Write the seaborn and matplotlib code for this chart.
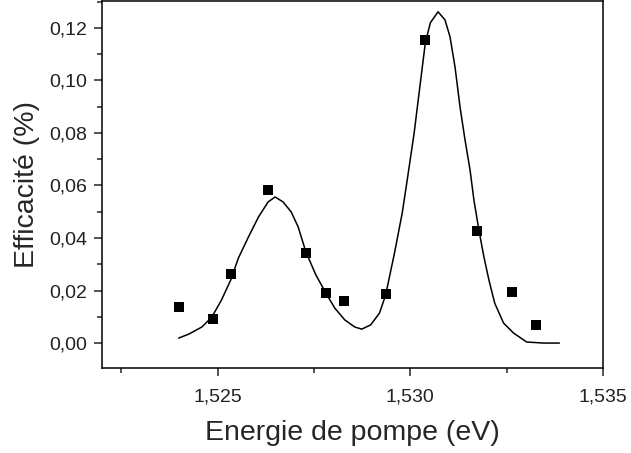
import numpy as np
import pandas as pd
import matplotlib
matplotlib.use("Agg")
import matplotlib.pyplot as plt
from matplotlib.ticker import MultipleLocator, FuncFormatter
import seaborn as sns

# --- measured points ---
energy_pts = [1.52399, 1.52487, 1.52534, 1.52631, 1.52729, 1.52781,
              1.52827, 1.52938, 1.53039, 1.53173, 1.53263, 1.53325]
eff_pts = [0.0137, 0.0091, 0.0263, 0.0583, 0.0343, 0.0190,
           0.0160, 0.0187, 0.1154, 0.0427, 0.0194, 0.0069]

# --- fitted curve ---
energy_fit = [1.52399, 1.52425, 1.52459, 1.52485, 1.52510, 1.52534, 1.52554,
              1.52580, 1.52606, 1.52631, 1.52649, 1.52670, 1.52691, 1.52709,
              1.52729, 1.52755, 1.52781, 1.52804, 1.52830, 1.52856, 1.52874,
              1.52897, 1.52920, 1.52936, 1.52959, 1.52979, 1.52992, 1.53010,
              1.53026, 1.53039, 1.53052, 1.53072, 1.53090, 1.53103, 1.53116,
              1.53129, 1.53142, 1.53155, 1.53165, 1.53178, 1.53191, 1.53204,
              1.53219, 1.53242, 1.53268, 1.53302, 1.53345, 1.53387]
eff_fit = [0.0019, 0.0034, 0.0061, 0.0099, 0.0164, 0.0240, 0.0324,
           0.0404, 0.0480, 0.0537, 0.0556, 0.0537, 0.0499, 0.0442,
           0.0347, 0.0259, 0.0190, 0.0133, 0.0088, 0.0061, 0.0053,
           0.0069, 0.0114, 0.0183, 0.0343, 0.0495, 0.0621, 0.0800,
           0.0990, 0.1143, 0.1219, 0.1261, 0.1230, 0.1166, 0.1051,
           0.0899, 0.0773, 0.0659, 0.0545, 0.0430, 0.0328, 0.0240,
           0.0152, 0.0076, 0.0038, 0.0004, 0.0000, 0.0000]

pts = pd.DataFrame({"E": energy_pts, "eff": eff_pts})
fit = pd.DataFrame({"E": energy_fit, "eff": eff_fit})

sns.set_style("ticks")
plt.rcParams['font.family'] = ['Liberation Sans', 'DejaVu Sans']

fig = plt.figure(figsize=(6.31, 4.53), dpi=100)
ax = fig.add_axes([0.1617, 0.1876, 0.7939, 0.8102])

sns.lineplot(data=fit, x="E", y="eff", sort=False, color="black", lw=1.1, ax=ax)
sns.scatterplot(data=pts, x="E", y="eff", marker="s", s=42, color="black",
                edgecolor="black", linewidth=0, ax=ax, zorder=3)

ax.set_xlim(1.522, 1.535)
ax.set_ylim(-0.0095, 0.1302)
ax.xaxis.set_major_locator(MultipleLocator(0.005))
ax.xaxis.set_minor_locator(MultipleLocator(0.0025))
ax.yaxis.set_major_locator(MultipleLocator(0.02))
ax.yaxis.set_minor_locator(MultipleLocator(0.01))

comma3 = FuncFormatter(lambda v, p: f"{v:.3f}".replace(".", ","))
comma2 = FuncFormatter(lambda v, p: f"{v:.2f}".replace(".", ",").replace("-0,00", "0,00"))
ax.xaxis.set_major_formatter(comma3)
ax.yaxis.set_major_formatter(comma2)

ax.tick_params(which="major", direction="out", length=6, width=1.1,
               labelsize=14, labelcolor="#222222", pad=5)
ax.tick_params(axis="x", which="major", pad=9)
ax.tick_params(which="minor", direction="out", length=3.5, width=1.1)
for s in ax.spines.values():
    s.set_visible(True)
    s.set_linewidth(1.1)
    s.set_color("black")

ax.set_xlabel("Energie de pompe (eV)", fontsize=20.5, labelpad=10)
ax.set_ylabel("Efficacité (%)", fontsize=20.5, labelpad=6)

fig.savefig("out.png", dpi=100)
